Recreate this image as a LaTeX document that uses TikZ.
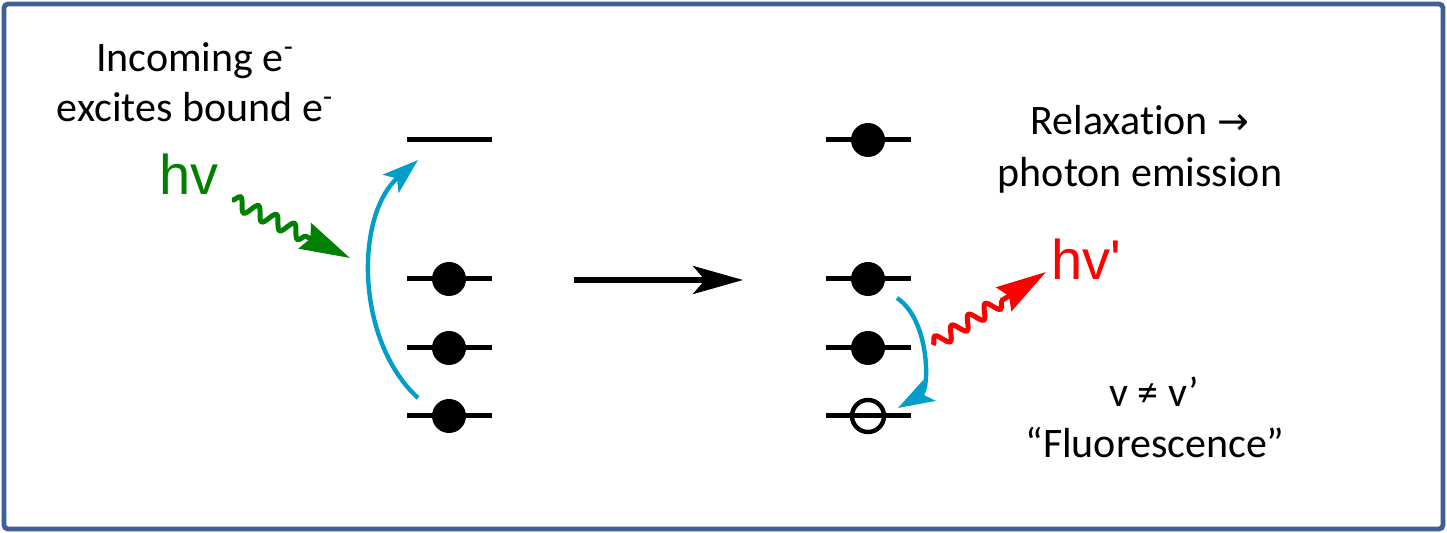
\documentclass[tikz,border=0pt]{standalone}
\usepackage{fontspec}
\setmainfont{Carlito}[Ligatures={TeX,NoCommon}]
\newfontfamily\arialfont{Liberation Sans}
\newfontfamily\symbolfont{DejaVu Sans}
\usetikzlibrary{arrows.meta}
\usetikzlibrary{decorations.pathmorphing}

\definecolor{framecolor}{RGB}{62,96,146}
\definecolor{arcblue}{RGB}{0,158,200}
\definecolor{photongreen}{RGB}{0,128,0}
\definecolor{photonred}{RGB}{255,0,0}

\tikzset{
  level/.style = {
    line width=2.5pt
  },
  electron/.style = {
    circle, fill=black, inner sep=0pt, minimum size=17pt
  },
  hole/.style = {
    circle, draw=black, line width=2.2pt, inner sep=0pt, minimum size=16pt
  },
  jump/.style = {
    -{Stealth[length=18pt,width=12pt,inset=4pt]},
    draw=arcblue, line width=2.2pt
  },
  photon/.style = {
    -{Stealth[length=25pt,width=14pt,inset=3pt]},
    line width=2.5pt,
    decorate,
    decoration={snake, amplitude=3.3pt, segment length=10pt, post length=22pt}
  },
  note/.style = {
    font=\fontsize{21}{25}\selectfont, inner sep=0pt, anchor=base
  },
  quantum/.style = {
    font=\arialfont\fontsize{28}{32}\selectfont, inner sep=0pt, anchor=base west
  },
}

\begin{document}
\begin{tikzpicture}[x=0.5pt, y=-0.5pt]
  \useasboundingbox (0,0) rectangle (1447,533);
  \draw [framecolor, line width=2.4pt, rounded corners=2pt] (4,4) rectangle (1443,529);

  % levels, before and after
  \foreach \y in {140,279,348,416} {
    \draw [level] (407,\y) -- (492,\y);
    \draw [level] (826,\y) -- (911,\y);
  }
  \coordinate (before-1) at (449,140);
  \foreach \i/\y in {2/279,3/348,4/416}
    \node [electron] (before-\i) at (449,\y) {};
  \foreach \i/\y in {1/140,2/279,3/348}
    \node [electron] (after-\i) at (868,\y) {};
  \node [hole] (after-4) at (868,416) {};

  % excitation and relaxation
  \coordinate (up-start) at (418,398);
  \coordinate (up-end) at (418,160);
  \draw [jump] (up-start) .. controls (355,340) and (355,215) .. (up-end);
  \coordinate (down-start) at (897,298);
  \coordinate (down-end) at (898,408);
  \draw [jump] (down-start) .. controls (930,320) and (930,390) .. (down-end);

  % photons
  \coordinate (in-start) at (232,200);
  \coordinate (in-end) at (350,258);
  \draw [photon, photongreen] (in-start) -- (in-end);
  \coordinate (out-start) at (933,345);
  \coordinate (out-end) at (1046,272);
  \draw [photon, photonred] (out-start) -- (out-end);

  % before -> after
  \coordinate (shift-start) at (574,280);
  \coordinate (shift-end) at (743,280);
  \draw [line width=2.6pt, -{Stealth[length=25pt,width=14pt,inset=6pt]}] (shift-start) -- (shift-end);

  \node [note] (incoming) at (195,72) {Incoming e\textsuperscript{-}};
  \node [note] (excites) at (195,122) {excites bound e\textsuperscript{-}};
  \node [quantum, photongreen] (hv-in) at (159,195) {hv};

  \node [note] (relax) at (1140,135) {Relaxation {\symbolfont\fontsize{19}{22}\selectfont →}};
  \node [note] (emission) at (1140,187) {photon emission};
  \node [quantum, photonred] (hv-out) at (1051,280) {hv\textquotesingle};
  \node [note] (freq) at (1154,407) {v ≠ v’};
  \node [note] (fluor) at (1155,458) {“Fluorescence”};
\end{tikzpicture}
\end{document}
